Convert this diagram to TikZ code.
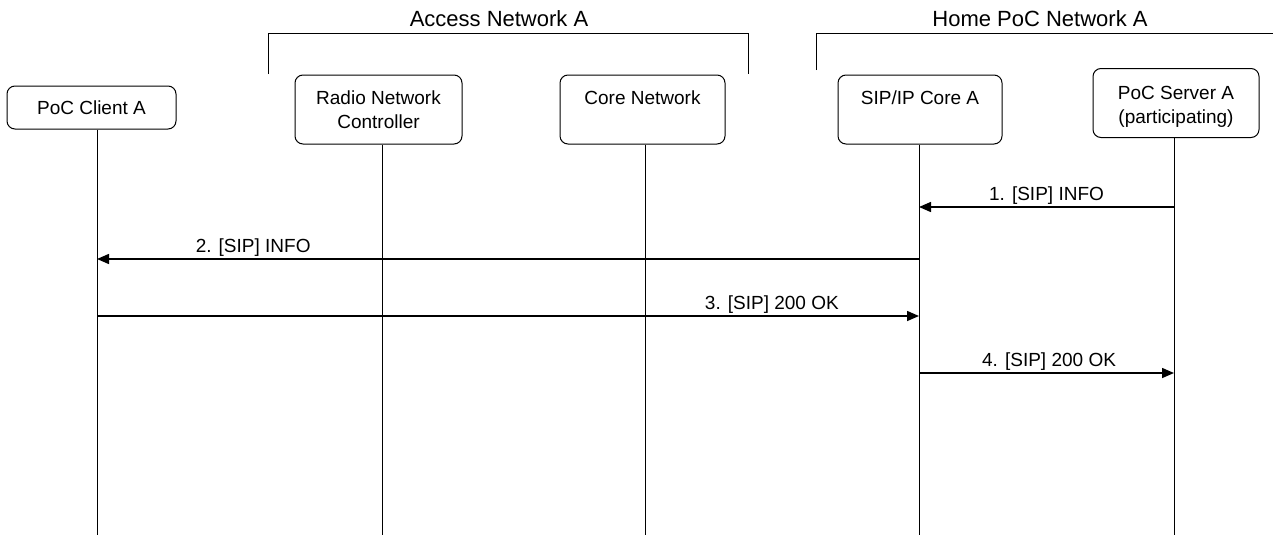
\documentclass[tikz,border=0pt]{standalone}
\usepackage{fontspec}
\setmainfont{Liberation Sans}
\usetikzlibrary{arrows.meta}
\begin{document}
\begin{tikzpicture}[x=1pt,y=-1pt,
  box/.style={draw, rounded corners=8pt, line width=1pt, align=center, inner sep=0pt,
    font=\fontsize{19}{24}\selectfont},
  boxtxt/.style={align=center, inner sep=0pt, font=\fontsize{19}{24}\selectfont},
  hdr/.style={font=\fontsize{22}{26}\selectfont, inner sep=0pt},
  lbl/.style={font=\fontsize{19}{24}\selectfont, inner sep=0pt, anchor=base},
  life/.style={line width=1pt},
  brk/.style={line width=1pt},
  msg/.style={line width=1.5pt, -{Triangle[length=12pt,width=10pt]}}]
\useasboundingbox (0,0) rectangle (1273,535);
% boxes
\node[box, minimum width=169, minimum height=43] (client) at (91.5,107.5) {PoC Client A};
\node[box, minimum width=167, minimum height=69] (rnc) at (378.5,109.5) {Radio Network\\Controller};
\node[box, minimum width=165, minimum height=69] (core) at (642.5,109.5) {Core Network\\\mbox{}};
\node[box, minimum width=164, minimum height=69] (sip) at (920,109.5) {SIP/IP Core A\\\mbox{}};
\node[box, minimum width=166, minimum height=69] (srv) at (1176,103) {};
\node[boxtxt] (srvtxt) at (1176,107) {PoC Server A\\(participating)};
% headers
\node[hdr] (hacc) at (499,18.5) {Access Network A};
\node[hdr] (hhome) at (1040,18.5) {Home PoC Network A};
\draw[brk] (268,74) -- (268,34) -- (748,34) -- (748,74);
\draw[brk] (816,70) -- (816,34) -- (1273,34);
% lifelines
\coordinate (lc) at (97,535);
\coordinate (lr) at (382,535);
\coordinate (lk) at (645,535);
\coordinate (ls) at (919,535);
\coordinate (lv) at (1174,535);
\draw[life] (client.south -| lc) -- (lc);
\draw[life] (rnc.south -| lr) -- (lr);
\draw[life] (core.south -| lk) -- (lk);
\draw[life] (sip.south -| ls) -- (ls);
\draw[life] (srv.south -| lv) -- (lv);
% messages
\coordinate (m1) at (0,207);
\coordinate (m2) at (0,259);
\coordinate (m3) at (0,316);
\coordinate (m4) at (0,373);
\draw[msg] (lv |- m1) -- node[lbl, pos=0.5, yshift=7pt] (t1) {1. [SIP] INFO} (ls |- m1);
\draw[msg] (ls |- m2) -- node[lbl, pos=0.81, yshift=7pt] (t2) {2. [SIP] INFO} (lc |- m2);
\draw[msg] (lc |- m3) -- node[lbl, pos=0.821, yshift=7pt] (t3) {3. [SIP] 200 OK} (ls |- m3);
\draw[msg] (ls |- m4) -- node[lbl, pos=0.51, yshift=7pt] (t4) {4. [SIP] 200 OK} (lv |- m4);
\end{tikzpicture}
\end{document}
